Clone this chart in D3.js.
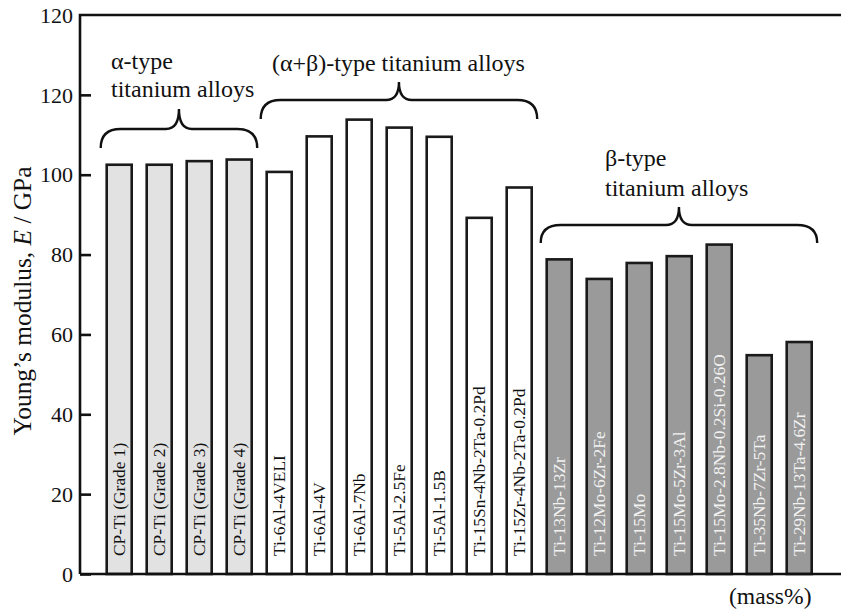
<!DOCTYPE html>
<html><head><meta charset="utf-8">
<script src="https://cdn.jsdelivr.net/npm/d3@7"></script>
<style>body{margin:0;background:#fff}svg{display:block}</style>
</head><body>
<svg id="c" width="841" height="613"></svg>
<script>
// ---- data ----
const categories = ["CP-Ti (Grade 1)","CP-Ti (Grade 2)","CP-Ti (Grade 3)","CP-Ti (Grade 4)",
  "Ti-6Al-4VELI","Ti-6Al-4V","Ti-6Al-7Nb","Ti-5Al-2.5Fe","Ti-5Al-1.5B","Ti-15Sn-4Nb-2Ta-0.2Pd","Ti-15Zr-4Nb-2Ta-0.2Pd",
  "Ti-13Nb-13Zr","Ti-12Mo-6Zr-2Fe","Ti-15Mo","Ti-15Mo-5Zr-3Al","Ti-15Mo-2.8Nb-0.2Si-0.26O","Ti-35Nb-7Zr-5Ta","Ti-29Nb-13Ta-4.6Zr"];
const modulus = [102.5,102.5,103.4,103.8, 100.7,109.6,113.8,111.8,109.5,89.2,96.8, 78.8,73.9,77.9,79.6,82.5,54.8,58.1];
const alloyType = ["a","a","a","a","ab","ab","ab","ab","ab","ab","ab","b","b","b","b","b","b","b"];
const groupKeys = ["a","ab","b"];
const groupLabels = [["α-type","titanium alloys"],["(α+β)-type titanium alloys"],["β-type","titanium alloys"]];
const tickValues = [0,20,40,60,80,100,120,140];
const tickLabels = ["0","20","40","60","80","100","120","120"];
const yTitle = ["Young’s modulus, ","E"," / GPa"];
const unitNote = "(mass%)";

// ---- layout ----
const FF = "'Liberation Serif', 'Times New Roman', serif";
const svg = d3.select("#c");
const X0 = 80, Y0 = 574, YT = 15;
const fills = {a:"#e2e2e2", ab:"#ffffff", b:"#9a9a9a"};
const textFill = {a:"#111", ab:"#111", b:"#f2f2f2"};
const y = d3.scaleLinear().domain([0,140]).range([Y0, YT]);
const x = d3.scaleBand().domain(categories).range([86.7, 86.7+745]).paddingInner(0.375).paddingOuter(0.5);
// text drawn at 20px base then scaled (avoids font substitution at large sizes)
function stxt(parent, tx, ty, s, rot){
  return parent.append("text")
    .attr("transform", `translate(${tx},${ty})${rot?` rotate(${rot})`:""} scale(${s})`)
    .style("font-family", FF).style("font-size", "20px").attr("fill","#111");
}

const bars = svg.append("g");
categories.forEach((c,i)=>{
  bars.append("rect").attr("x", x(c)).attr("y", y(modulus[i])).attr("width", x.bandwidth())
    .attr("height", Y0 - y(modulus[i])).attr("fill", fills[alloyType[i]])
    .attr("stroke", "#1a1a1a").attr("stroke-width", 2.6);
  bars.append("text").attr("transform", `translate(${x(c)+x.bandwidth()/2},${Y0-18}) rotate(-90)`)
    .attr("dy","0.35em").style("font-family", FF).style("font-size", "17.4px")
    .attr("fill", textFill[alloyType[i]]).text(c);
});

// frame
svg.append("path").attr("d", `M${X0},${Y0} L${X0},${YT} L841,${YT}`).attr("fill","none").attr("stroke","#111").attr("stroke-width",2.6);
svg.append("line").attr("x1",X0).attr("x2",841).attr("y1",Y0).attr("y2",Y0).attr("stroke","#111").attr("stroke-width",2.6);

// y axis
const ax = svg.append("g").attr("transform",`translate(${X0},0)`)
  .call(d3.axisRight(y).tickValues(tickValues.slice(0,7)).tickSize(11).tickFormat(""));
ax.select(".domain").remove();
ax.selectAll("line").attr("stroke","#111").attr("stroke-width",2.6);
tickValues.forEach((v,i)=>{
  stxt(svg, 73, y(v), 1.1).attr("dy","0.35em").attr("text-anchor","end").text(tickLabels[i]);
});
const tt = stxt(svg, 22, 301, 1.27, -90).attr("dy","0.35em").attr("text-anchor","middle");
tt.append("tspan").text(yTitle[0]);
tt.append("tspan").attr("font-style","italic").text(yTitle[1]);
tt.append("tspan").text(yTitle[2]);

// braces and group labels
const braceY = {a:[148,129,109], ab:[119,100,82], b:[243,225,207]};
const labelPos = {a:[111,69,97], ab:[272,71], b:[605,166,196]};
function brace(x1,x2,yE,yM,yT){
  const xt=(x1+x2)/2, r=20, r2=13;
  return `M${x1},${yE} Q${x1},${yM} ${x1+r},${yM} L${xt-r2},${yM} Q${xt},${yM} ${xt},${yT} Q${xt},${yM} ${xt+r2},${yM} L${x2-r},${yM} Q${x2},${yM} ${x2},${yE}`;
}
groupKeys.forEach((g,gi)=>{
  const members = categories.filter((c,i)=>alloyType[i]===g);
  const x1 = x(members[0]) - 6, x2 = x(members[members.length-1]) + x.bandwidth() + 5.5;
  const [yE,yM,yTp] = braceY[g];
  svg.append("path").attr("d", brace(x1,x2,yE,yM,yTp)).attr("fill","none").attr("stroke","#111").attr("stroke-width",2.4);
  const lp = labelPos[g];
  groupLabels[gi].forEach((t,k)=>{
    stxt(svg, lp[0], lp[1+k], 1.2).text(t);
  });
});
stxt(svg, 729, 604, 1.18).text(unitNote);
</script>
</body></html>
